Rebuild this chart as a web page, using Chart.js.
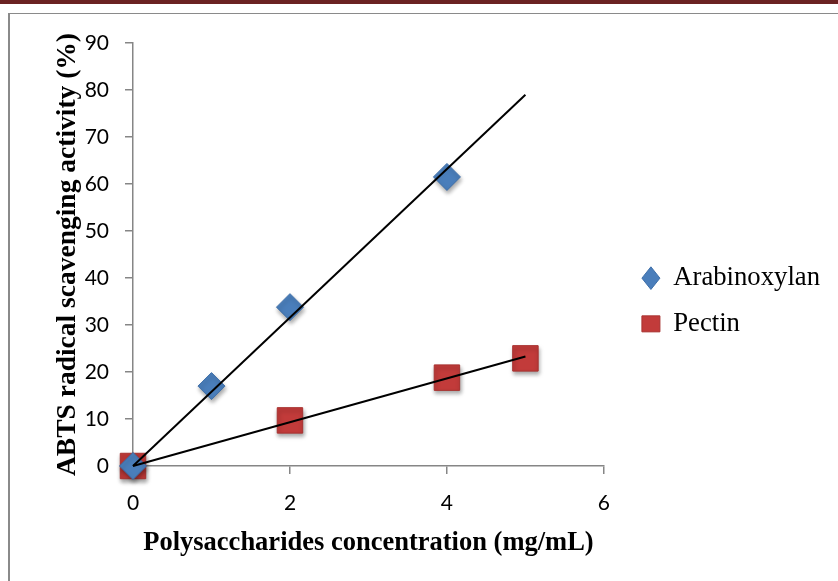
<!DOCTYPE html>
<html lang="en">
  <head>
    <meta charset="UTF-8" />
    <title>ABTS radical scavenging activity</title>
    <script src="https://cdn.jsdelivr.net/npm/chart.js"></script>
    <style>
      html, body { margin: 0; padding: 0; background: #fff; }
      #page { position: relative; width: 838px; height: 581px; overflow: hidden; }
      #topbar { position: absolute; left: 0; top: 0; width: 838px; height: 4px; background: #6b2222; }
      #frame { position: absolute; left: 8px; top: 13px; width: 840px; height: 600px;
               border-left: 2px solid #8a8a8a; border-top: 1px solid #8a8a8a; }
      #chart { position: absolute; left: 0; top: 0; }
    </style>
  </head>
  <body>
    <div id="page">
      <div id="topbar"></div>
      <div id="frame"></div>
      <canvas id="chart" width="838" height="581"></canvas>
    </div>

    <script>
      // valores
      const arabX = [0, 1, 2, 4];
      const arabY = [0, 17, 33.8, 61.5];
      const pectX = [0, 2, 4, 5];
      const pectY = [0, 9.7, 18.8, 22.9];
      // linhas de tendência (início e fim)
      const arabTrendX = [0, 5];
      const arabTrendY = [0, 79];
      const pectTrendX = [0, 5];
      const pectTrendY = [0, 23.3];
      const xTicks = [0, 2, 4, 6];
      const yTicks = [0, 10, 20, 30, 40, 50, 60, 70, 80, 90];

      const toPts = (xs, ys) => xs.map((x, i) => ({ x: x, y: ys[i] }));

      const shadowPlugin = {
        id: "markerShadow",
        beforeDatasetDraw(chart, args) {
          const ds = chart.data.datasets[args.index];
          if (!ds.shadow) return;
          const ctx = chart.ctx;
          ctx.save();
          ctx.shadowColor = "rgba(0,0,0,0.35)";
          ctx.shadowBlur = 4;
          ctx.shadowOffsetX = 1;
          ctx.shadowOffsetY = 3;
        },
        afterDatasetDraw(chart, args) {
          const ds = chart.data.datasets[args.index];
          if (!ds.shadow) return;
          chart.ctx.restore();
        }
      };

      const gray = "#868686";
      const tickFont = { family: "Lato, 'Open Sans', sans-serif", size: 21 };
      const serif = "'Liberation Serif', 'Times New Roman', serif";

      new Chart(document.getElementById("chart"), {
        type: "scatter",
        data: {
          datasets: [
            {
              label: "Arabinoxylan",
              data: toPts(arabX, arabY),
              pointStyle: "rectRot",
              pointRadius: 13.5,
              pointHoverRadius: 13.5,
              backgroundColor: "#4a7ebb",
              borderColor: "#3d6ea8",
              borderWidth: 1,
              shadow: true,
              clip: false,
              order: 1
            },
            {
              label: "Pectin",
              data: toPts(pectX, pectY),
              pointStyle: "rect",
              pointRadius: 18,
              pointHoverRadius: 18,
              backgroundColor: "#c23b3a",
              borderColor: "#a83230",
              borderWidth: 1,
              shadow: true,
              clip: false,
              order: 1
            },
            {
              label: "trend1",
              type: "line",
              data: toPts(arabTrendX, arabTrendY),
              borderColor: "#000",
              borderWidth: 2,
              pointRadius: 0,
              fill: false,
              clip: false,
              order: 0
            },
            {
              label: "trend2",
              type: "line",
              data: toPts(pectTrendX, pectTrendY),
              borderColor: "#000",
              borderWidth: 2,
              pointRadius: 0,
              fill: false,
              clip: false,
              order: 0
            }
          ]
        },
        options: {
          responsive: false,
          animation: false,
          layout: { padding: { left: 51, top: 43, bottom: 22, right: 8 } },
          plugins: {
            tooltip: { enabled: false },
            legend: {
              position: "right",
              maxWidth: 240,
              labels: {
                filter: (item) => item.text.indexOf("trend") !== 0,
                usePointStyle: true,
                boxHeight: 16,
                pointStyleWidth: 18,
                padding: 19,
                color: "#000",
                font: { family: serif, size: 26.7 }
              }
            }
          },
          scales: {
            x: {
              type: "linear",
              min: 0,
              max: 6,
              afterBuildTicks: (s) => { s.ticks = xTicks.map((v) => ({ value: v })); },
              afterFit: (s) => { s.height = 93; },
              border: { color: gray, width: 1.5 },
              grid: { drawOnChartArea: false, drawTicks: true, tickLength: 8, color: gray, lineWidth: 1.5 },
              ticks: { color: "#000", font: tickFont, padding: 17 },
              title: { display: true, text: "Polysaccharides concentration (mg/mL)", color: "#000",
                       font: { family: serif, size: 26.5, weight: "bold" }, padding: { top: 6, bottom: 0 } }
            },
            y: {
              type: "linear",
              min: 0,
              max: 90,
              afterBuildTicks: (s) => { s.ticks = yTicks.map((v) => ({ value: v })); },
              afterFit: (s) => { s.width = 133 - 51; },
              border: { color: gray, width: 1.5 },
              grid: { drawOnChartArea: false, drawTicks: true, tickLength: 8, color: gray, lineWidth: 1.5 },
              ticks: { color: "#000", font: tickFont, padding: 16 },
              title: { display: true, text: "ABTS radical scavenging activity (%)", color: "#000",
                       font: { family: serif, size: 27.5, weight: "bold" }, padding: { top: 0, bottom: 6 } }
            },
            // eixo vazio só para afastar a legenda da área do gráfico
            gap: {
              type: "linear",
              position: "right",
              display: true,
              afterFit: (s) => { s.width = 19; },
              border: { display: false },
              grid: { display: false },
              ticks: { display: false }
            }
          }
        },
        plugins: [shadowPlugin]
      });
    </script>
  </body>
</html>
